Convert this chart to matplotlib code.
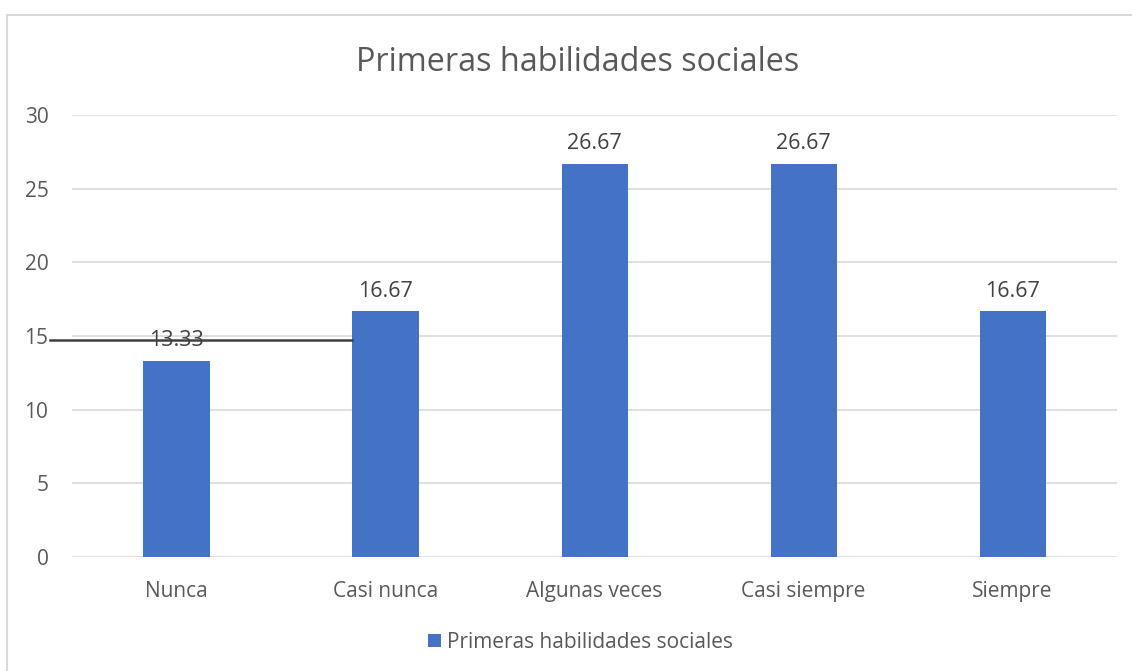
import numpy as np
import matplotlib
matplotlib.use("Agg")
import matplotlib.pyplot as plt
from matplotlib.patches import Rectangle

# data
categories = ["Nunca", "Casi nunca", "Algunas veces", "Casi siempre", "Siempre"]
values = [13.33, 16.67, 26.67, 26.67, 16.67]
series_name = "Primeras habilidades sociales"
title = "Primeras habilidades sociales"
y_ticks = [0, 5, 10, 15, 20, 25, 30]

# stray line seen in the original, just under the 15 gridline
stray_y = 14.73
stray_x_start = -0.605

plt.rcParams['font.family'] = ['Open Sans', 'DejaVu Sans']

fig = plt.figure(figsize=(11.32, 6.71), dpi=100)
ax = fig.add_axes([0.0636, 0.1699, 0.9232, 0.6587])

x = np.arange(len(categories))
bar_w = 0.316
bars = ax.bar(x, values, width=bar_w, color="#4472C4", label=series_name, zorder=3)

for xi, v in zip(x, values):
    ax.annotate(f"{v:.2f}", (xi, v), xytext=(0, 7), textcoords="offset points",
                ha="center", va="bottom", fontsize=15.5, color="#404040", zorder=4)

ax.set_xlim(-0.5, len(categories) - 0.5)
ax.set_ylim(0, 30)
ax.set_yticks(y_ticks)
ax.set_xticks(x)
ax.set_xticklabels(categories)
ax.tick_params(axis="both", length=0, labelsize=15, labelcolor="#595959")
ax.tick_params(axis="x", pad=17)
ax.tick_params(axis="y", pad=17)
ax.grid(axis="y", color="#D9D9D9", linewidth=1.2, zorder=0)
for s in ax.spines.values():
    s.set_visible(False)

# stray black line
ax.plot([stray_x_start, x[1] - bar_w / 2], [stray_y, stray_y], color="#404040",
        linewidth=1.8, clip_on=False, zorder=5)

fig.text(0.51, 0.9076, title, ha="center", va="center", fontsize=23.3, color="#595959")

leg = fig.legend(loc="center", bbox_to_anchor=(0.513, 0.043), frameon=False,
                 fontsize=15, handlelength=0.6, handleheight=0.6, handletextpad=0.3)
for t in leg.get_texts():
    t.set_color("#595959")

# chart border
fig.patches.append(Rectangle((7 / 1132, -0.01), 1.1, (671 - 15) / 671 + 0.01,
                             transform=fig.transFigure, fill=False,
                             edgecolor="#D9D9D9", linewidth=1.5))

fig.savefig("out.png", dpi=100)
